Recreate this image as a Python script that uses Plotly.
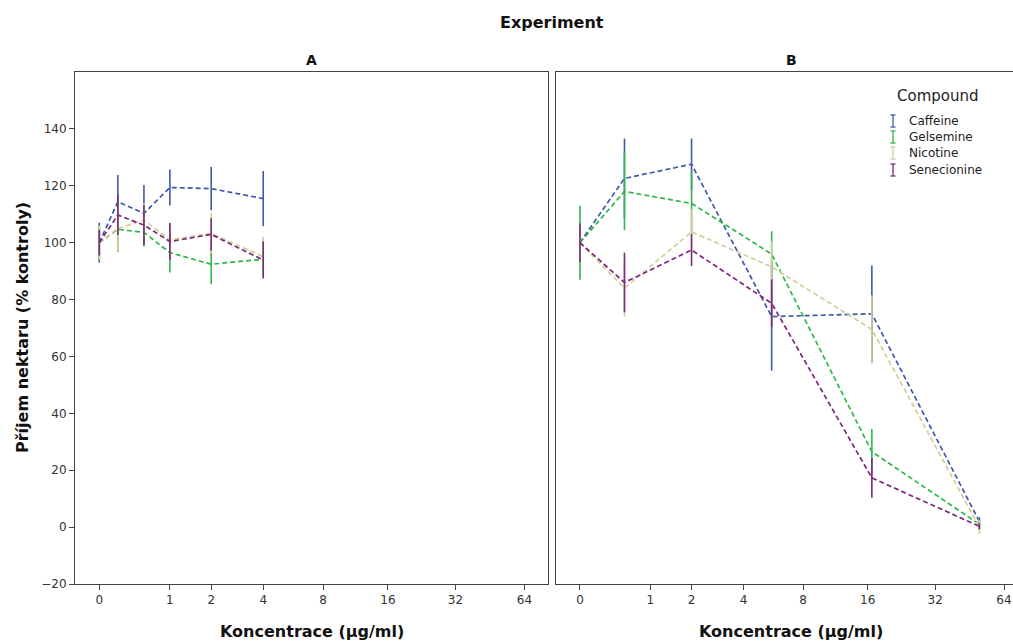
import numpy as np
import plotly.graph_objects as go

# ---------------- data ----------------
compounds = ["Caffeine", "Gelsemine", "Nicotine", "Senecionine"]
colors = ["#3E58AC", "#2EB848", "#D3CE97", "#7C287D"]

conc_A = [0, 0.2, 0.55, 1, 2, 4]
mean_A = {
    "Caffeine":    [100, 114.4, 110.3, 119.4, 119.0, 115.5],
    "Gelsemine":   [100, 104.7, 103.6, 96.5, 92.4, 94.2],
    "Nicotine":    [100, 105.0, 107.9, 101.0, 103.3, 95.1],
    "Senecionine": [100, 109.7, 106.2, 100.4, 102.9, 93.9],
}
err_A = {
    "Caffeine":    [7.0, 9.4, 10.0, 6.3, 7.6, 9.7],
    "Gelsemine":   [6.0, 8.0, 5.0, 7.0, 7.0, 6.0],
    "Nicotine":    [6.0, 8.0, 6.0, 6.0, 7.0, 7.0],
    "Senecionine": [4.5, 7.0, 7.0, 6.5, 5.7, 6.5],
}

conc_B = [0, 0.55, 2, 5.6, 16.7, 50]
mean_B = {
    "Caffeine":    [100, 122.6, 127.6, 74.0, 75.0, 2.0],
    "Gelsemine":   [100, 118.0, 113.8, 96.0, 26.5, 1.0],
    "Nicotine":    [100, 84.0, 103.8, 91.5, 69.5, 0.0],
    "Senecionine": [100, 86.0, 97.4, 78.7, 17.3, 0.3],
}
err_B = {
    "Caffeine":    [5.0, 14.0, 9.0, 19.0, 17.0, 1.5],
    "Gelsemine":   [13.0, 13.6, 11.0, 8.0, 8.0, 2.0],
    "Nicotine":    [6.0, 10.0, 8.0, 9.0, 12.0, 2.5],
    "Senecionine": [6.7, 10.5, 5.6, 8.4, 7.0, 1.0],
}

tick_labels = [0, 1, 2, 4, 8, 16, 32, 64]
y_ticks = [-20, 0, 20, 40, 60, 80, 100, 120, 140]


def tx(v):
    """log2(x+1) transform used by the concentration axis"""
    return list(np.log2(np.asarray(v, dtype=float) + 1))


W, H = 1013, 642
L, T, B = 75, 72, 58
PW, PH = W - L, H - T - B


def fx(x):  # reference pixel x -> paper fraction
    return (x - L) / PW


def fy(y):  # reference pixel y -> paper fraction
    return (H - B - y) / PH


FONT = "DejaVu Sans, Verdana, sans-serif"
fig = go.Figure()

for comp, col in zip(compounds, colors):
    for conc, means, errs, xa in [(conc_A, mean_A, err_A, "x"), (conc_B, mean_B, err_B, "x2")]:
        fig.add_trace(go.Scatter(
            x=tx(conc), y=means[comp], xaxis=xa, yaxis="y",
            mode="lines", line=dict(color=col, width=1.7, dash="5px,3px"),
            error_y=dict(type="data", array=errs[comp], visible=True,
                         color=col, thickness=1.6, width=0),
            showlegend=False, name=comp, hoverinfo="skip"))

axis_line = dict(showline=True, linecolor="#444444", linewidth=1, mirror=True,
                 showgrid=False, zeroline=False)
tickstyle = dict(ticks="outside", ticklen=5, tickcolor="#444444",
                 tickfont=dict(family=FONT, size=12, color="#333333"))

fig.update_layout(
    width=W, height=H,
    margin=dict(l=L, r=0, t=T, b=B),
    paper_bgcolor="white", plot_bgcolor="white",
    font=dict(family=FONT, size=12, color="#333333"),
    showlegend=False,
    xaxis=dict(domain=[0, fx(548)], range=[-0.344, 6.355],
               tickvals=tx(tick_labels), ticktext=[str(t) for t in tick_labels],
               **tickstyle, **axis_line),
    xaxis2=dict(domain=[fx(556), 1.0], range=[-0.34, 6.15], anchor="y",
                tickvals=tx(tick_labels), ticktext=[str(t) for t in tick_labels],
                ticklabeloverflow="allow",
                **tickstyle, **axis_line),
    yaxis=dict(range=[-20, 160], tickvals=y_ticks, **tickstyle, **axis_line),
    yaxis2=dict(range=[-20, 160], overlaying="y", anchor="x2",
                showticklabels=False, ticks="", **axis_line),
)
fig.add_trace(go.Scatter(x=[None], y=[None], xaxis="x2", yaxis="y2",
                         showlegend=False, hoverinfo="skip"))

ann = [
    dict(text="<b>Experiment</b>", x=552, y=22, size=16),
    dict(text="<b>A</b>", x=311, y=60, size=14),
    dict(text="<b>B</b>", x=791, y=60, size=14),
    dict(text="<b>Koncentrace (µg/ml)</b>", x=312, y=631, size=16),
    dict(text="<b>Koncentrace (µg/ml)</b>", x=791, y=631, size=16),
]
for a in ann:
    fig.add_annotation(text=a["text"], xref="paper", yref="paper",
                       x=fx(a["x"]), y=fy(a["y"]),
                       xanchor="center", yanchor="middle", showarrow=False,
                       font=dict(family=FONT, size=a["size"], color="#111111"))
fig.add_annotation(text="<b>Příjem nektaru (% kontroly)</b>", xref="paper", yref="paper",
                   x=fx(22), y=fy(328), textangle=-90,
                   xanchor="center", yanchor="middle", showarrow=False,
                   font=dict(family=FONT, size=16, color="#111111"))

# ---- legend (Compound) with error-bar glyphs ----
fig.add_annotation(text="Compound", xref="paper", yref="paper",
                   x=fx(938), y=fy(96), xanchor="center", yanchor="middle",
                   showarrow=False, font=dict(family=FONT, size=15, color="#222222"))
leg_y = [121, 137, 153, 170]
for comp, col, yy in zip(compounds, colors, leg_y):
    fig.add_shape(type="line", xref="paper", yref="paper",
                  x0=fx(893), x1=fx(893), y0=fy(yy - 6), y1=fy(yy + 6),
                  line=dict(color=col, width=1.3))
    for cy in (yy - 6, yy + 6):
        fig.add_shape(type="line", xref="paper", yref="paper",
                      x0=fx(890.5), x1=fx(895.5), y0=fy(cy), y1=fy(cy),
                      line=dict(color=col, width=1.3))
    fig.add_annotation(text=comp, xref="paper", yref="paper",
                       x=fx(907), y=fy(yy), xanchor="left", yanchor="middle",
                       showarrow=False, font=dict(family=FONT, size=12, color="#222222"))

fig.write_html(
    "out.html",
    config={"displayModeBar": False},
    post_script="document.body.style.margin='0';document.body.style.overflow='hidden';",
)
